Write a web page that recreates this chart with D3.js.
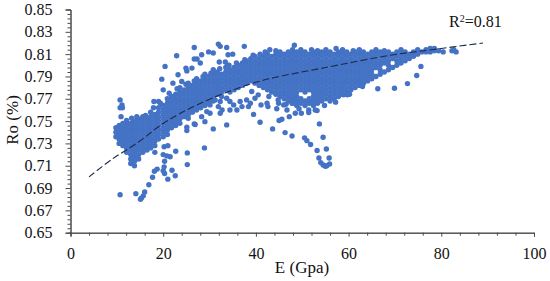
<!DOCTYPE html>
<html>
<head>
<meta charset="utf-8">
<script src="https://cdn.jsdelivr.net/npm/d3@7"></script>
<style>
html, body { margin: 0; padding: 0; background: #fff; }
svg { display: block; }
text { font-family: "Liberation Serif", serif; fill: #111; }
</style>
</head>
<body>
<script>
const xMajor = [0, 20, 40, 60, 80, 100]
const xMinor = [4, 8, 12, 16, 24, 28, 32, 36, 44, 48, 52, 56, 64, 68, 72, 76, 84, 88, 92, 96]
const yMajor = [0.65, 0.67, 0.69, 0.71, 0.73, 0.75, 0.77, 0.79, 0.81, 0.83, 0.85]

// dense band, read column by column
const bandE = [9.8, 10.5, 11.3, 12.1, 13, 13.8, 14.7, 15.6, 16.5, 17.3, 18.2, 19, 20, 20.9, 21.8, 22.7, 23.6, 24.5, 25.4, 26.3, 27.2, 28.1, 29, 29.9, 30.8, 31.7, 32.6, 33.5, 34.4, 35.3, 36.2, 37.1, 38, 38.9, 39.8, 40.7, 41.6, 42.5, 43.4, 44.3, 45.2, 46.1, 47, 47.9, 48.8, 49.7, 50.6, 51.5, 52.4, 53.3, 54.2, 55.1, 56, 56.9, 57.8, 58.7, 59.6, 60.5, 61.4, 62.3, 63.2, 64.1, 65, 65.9, 66.8, 67.7, 68.6, 69.5, 70.4, 71.3, 72.2, 73.1, 74, 74.9, 75.8, 76.7, 77.6, 78.5, 79.4]
const bandRo = [
  [.736, .740, .744],
  [.730, .734, .738, .742, .746],
  [.728, .732, .736, .740, .744, .748],
  [.722, .726, .730, .734, .738, .742, .746, .749],
  [.712, .716, .720, .724, .728, .732, .736, .740, .744, .748],
  [.710, .714, .718, .722, .726, .730, .734, .738, .742, .746, .750],
  [.716, .720, .724, .728, .732, .736, .740, .744, .748, .752],
  [.722, .726, .730, .734, .738, .742, .746, .750, .754],
  [.724, .728, .732, .736, .740, .744, .748, .752],
  [.726, .730, .734, .738, .742, .746, .750, .754, .758],
  [.728, .732, .736, .740, .744, .748, .752, .756],
  [.734, .738, .742, .746, .750, .754, .758, .762],
  [.736, .740, .744, .748, .752, .756, .760, .764],
  [.738, .742, .746, .750, .754, .758, .762, .766, .770],
  [.744, .748, .752, .756, .760, .764, .768, .772],
  [.746, .750, .754, .758, .762, .766, .770, .774],
  [.752, .756, .760, .764, .768, .772, .776, .780],
  [.754, .758, .762, .766, .770, .774, .778],
  [.756, .760, .764, .768, .772, .776, .780, .784],
  [.758, .762, .766, .770, .774, .778, .782],
  [.760, .764, .768, .772, .776, .780, .784, .788],
  [.762, .766, .770, .774, .778, .782, .786],
  [.764, .768, .772, .776, .780, .784, .788, .792],
  [.766, .770, .774, .778, .782, .786, .790],
  [.768, .772, .776, .780, .784, .788, .792, .796],
  [.774, .778, .782, .786, .790, .794],
  [.772, .776, .780, .784, .788, .792],
  [.778, .782, .786, .790, .794, .798],
  [.776, .780, .784, .788, .792, .796],
  [.778, .782, .786, .790, .794, .798],
  [.780, .784, .788, .792, .796, .800],
  [.782, .786, .790, .794, .798, .802],
  [.784, .788, .792, .796, .800, .804],
  [.786, .790, .794, .798, .802, .806],
  [.784, .788, .792, .796, .800, .804, .808],
  [.782, .786, .790, .794, .798, .802, .806],
  [.780, .784, .788, .792, .796, .800, .804, .808],
  [.778, .782, .786, .790, .794, .798, .802, .806, .810],
  [.776, .780, .784, .788, .792, .796, .800, .804, .808],
  [.774, .778, .782, .786, .790, .794, .798, .802, .806, .810, .813],
  [.772, .776, .780, .784, .788, .792, .796, .800, .804, .808, .812],
  [.770, .774, .778, .782, .786, .790, .794, .798, .802, .806, .810],
  [.768, .772, .776, .780, .784, .788, .792, .796, .800, .804, .808, .812],
  [.766, .770, .774, .778, .782, .786, .790, .794, .798, .802, .806, .810, .814],
  [.764, .768, .772, .776, .780, .784, .788, .792, .796, .800, .804, .808, .812],
  [.766, .770, .778, .782, .786, .790, .794, .798, .802, .806, .810, .814],
  [.764, .768, .776, .780, .784, .788, .792, .796, .800, .804, .808, .812],
  [.766, .770, .778, .782, .786, .790, .794, .798, .802, .806, .810],
  [.764, .768, .772, .776, .780, .784, .788, .792, .796, .800, .804, .808, .812],
  [.766, .770, .774, .778, .782, .786, .790, .794, .798, .802, .806, .810, .813],
  [.768, .772, .776, .780, .784, .788, .792, .796, .800, .804, .808, .812],
  [.770, .774, .778, .782, .786, .790, .794, .798, .802, .806, .810, .814],
  [.768, .772, .776, .780, .784, .788, .792, .796, .800, .804, .808, .812],
  [.770, .774, .778, .782, .786, .790, .794, .798, .802, .806, .810],
  [.772, .776, .780, .784, .788, .792, .796, .800, .804, .808, .812],
  [.774, .778, .782, .786, .790, .794, .798, .802, .806, .810, .814],
  [.776, .780, .784, .788, .792, .796, .800, .804, .808, .812],
  [.778, .782, .786, .790, .794, .798, .802, .806, .810],
  [.780, .784, .788, .792, .796, .800, .804, .808, .812],
  [.782, .786, .790, .794, .798, .802, .806, .810, .814],
  [.784, .788, .792, .796, .800, .804, .808, .812],
  [.786, .790, .794, .798, .802, .806, .810],
  [.788, .792, .796, .800, .804, .808, .812],
  [.790, .798, .802, .806, .810, .814],
  [.792, .796, .800, .804, .808, .812],
  [.794, .802, .806, .810, .813],
  [.796, .800, .804, .808, .812],
  [.798, .806, .810],
  [.800, .804, .808, .812],
  [.802, .806, .810, .814],
  [.804, .808, .812],
  [.806, .810],
  [.808, .812],
  [.810, .814],
  [.812],
  [.812, .814],
  [.812, .815],
  [.813, .815],
  [.813]
]

// loose points around the band
const outliers = [
  [10.7, .684], [14.1, .685], [16, .6865], [15.7, .683], [15.3, .681], [15.1, .68], [16.9, .693], [17.7, .6997],
  [18.1, .705], [18.7, .707], [21, .698], [22.6, .701], [21.9, .706], [20.3, .703], [20, .7055], [20.2, .709],
  [20.3, .714], [25.2, .711], [25.2, .7215], [22.7, .723], [28.9, .726], [21.5, .718], [20, .72], [20.8, .7188],
  [20.2, .727], [21, .728], [18.2, .722],
  [51, .7325], [51.8, .729], [53.2, .7236], [55.2, .725], [53.6, .717], [55.8, .717], [54, .7128], [55.9, .7116],
  [54.5, .7107], [55, .7095], [55.3, .71], [54.5, .7355], [53.7, .7475], [50.5, .735], [47.8, .7367], [46.3, .7397],
  [47.2, .754], [45.6, .7517], [45, .7505], [48.5, .757], [49.8, .757], [51.4, .7576], [53.2, .7594], [44.5, .761],
  [66.3, .779], [69.9, .7795], [72.7, .7836], [74.7, .7908], [75.6, .799], [80.4, .812], [82.3, .813], [83.2, .812], [82.7, .814],
  [39.5, .756], [40.9, .749], [43.6, .743], [30.8, .743], [33.7, .7466], [26.7, .7475], [25.1, .7415],
  [10.7, .769], [11.1, .7645], [10.7, .762], [11.2, .762], [10.9, .754], [12.1, .7505], [13.2, .7526], [14.3, .754],
  [19.7, .7876], [20.4, .799], [22.9, .8085], [26.7, .816], [26.7, .8056], [27.3, .8056], [28.3, .8094], [28, .802],
  [24.9, .7975], [26.2, .7975], [25.1, .795], [23.2, .7915], [29.8, .812], [31.9, .819], [32.3, .817], [30.8, .811],
  [33.7, .816], [34, .8094], [35, .81], [32.1, .803], [33.4, .803], [37.5, .817], [34.2, .8], [22.1, .784], [24, .7855],
  [20, .778], [22.2, .772], [19, .7675], [18, .7675],
  [26.9, .747], [25.4, .7526], [29, .7495], [28.3, .754], [30.1, .757], [29.4, .7585], [32.3, .757], [32.7, .76],
  [31.9, .763], [34.4, .76], [35.9, .76], [37, .763], [38.4, .763], [22.9, .749], [23.6, .748], [25.1, .7445],
  [31.2, .769], [32.3, .7675], [30.1, .7645], [35.2, .7645], [36.6, .7675], [38, .769], [39.8, .7705], [33.7, .7705], [34.4, .7675],
  [39.1, .7765], [38.8, .766], [40.5, .7735], [42.4, .766], [41.1, .7645], [42.6, .763], [44.9, .766], [46, .7645], [46.7, .76],
  [47.8, .766], [51.4, .76], [52.8, .76], [58.9, .7735], [59.7, .7735],
  // uneven top edge
  [16.2, .755], [17.9, .762], [19.4, .766], [21.3, .775], [23, .779], [24.9, .783], [26.7, .786], [28.6, .79], [30.3, .793], [32.2, .797],
  [33.9, .8], [35.8, .802], [37.6, .805], [39.4, .809], [40.9, .81], [42, .812], [43, .814], [48.3, .818], [52, .814], [57.3, .815], [61, .813],
  // uneven lower edge
  [42.8, .772], [44.8, .769], [46.5, .765], [49.3, .761], [54.8, .764], [57.2, .767], [60.2, .774], [63, .781]
]

// dashed trend line
const trendE = [4, 9, 14.6, 19, 23.7, 30.8, 39.4, 44, 55, 69, 78, 89]
const trendRo = [.7, .716, .731, .745, .757, .771, .784, .789, .798, .809, .814, .82]

const width = 550
const height = 281
const DOT_R = 2.7

const x = d3.scaleLinear().domain([0, 100]).range([70.5, 534])
const y = d3.scaleLinear().domain([0.65, 0.85]).range([232.7, 9.5])

const svg = d3.select('body').append('svg')
  .attr('width', width)
  .attr('height', height)

drawAxes()
drawPoints()
drawTrend()
drawLabels()

function drawAxes() {
  const yMinor = d3.range(0, 51).map(d => 0.65 + d * 0.004).filter((d, i) => i % 5 !== 0)

  svg.append('g').attr('transform', `translate(0, ${y.range()[0]})`)
    .call(d3.axisBottom(x).tickValues(xMinor).tickSize(3).tickFormat(''))
  svg.append('g').attr('class', 'x-major').attr('transform', `translate(0, ${y.range()[0]})`)
    .call(d3.axisBottom(x).tickValues(xMajor).tickSize(4).tickPadding(11).tickFormat(d3.format('d')))

  svg.append('g').attr('transform', `translate(${x.range()[0]}, 0)`)
    .call(d3.axisLeft(y).tickValues(yMinor).tickSize(3).tickFormat(''))
  svg.append('g').attr('class', 'y-major').attr('transform', `translate(${x.range()[0]}, 0)`)
    .call(d3.axisLeft(y).tickValues(yMajor).tickSize(5).tickPadding(13).tickFormat(d3.format('.2f')))

  svg.selectAll('.domain, .tick line').attr('stroke', '#4a4a4a').attr('stroke-width', 1)
  svg.selectAll('.tick text').style('font-family', '"Liberation Serif", serif').style('font-size', '16px').attr('fill', '#111')
}

function drawPoints() {
  const band = bandE.flatMap((e, i) => bandRo[i].map(ro => [e, ro]))
  svg.append('g').selectAll('circle')
    .data(band.concat(outliers))
    .join('circle')
    .attr('cx', d => x(d[0]))
    .attr('cy', d => y(d[1]))
    .attr('r', DOT_R)
    .attr('fill', '#4472c4')
}

function drawTrend() {
  const line = d3.line()
    .x((d, i) => x(d))
    .y((d, i) => y(trendRo[i]))
    .curve(d3.curveCatmullRom)
  svg.append('path')
    .attr('d', line(trendE))
    .attr('fill', 'none')
    .attr('stroke', '#1c2b4a')
    .attr('stroke-width', 1.1)
    .attr('stroke-dasharray', '7 3')
}

function drawLabels() {
  svg.append('text')
    .attr('x', 302).attr('y', 273)
    .attr('text-anchor', 'middle')
    .style('font-size', '17px')
    .text('E (Gpa)')

  svg.append('text')
    .attr('transform', 'translate(18, 120) rotate(-90)')
    .attr('text-anchor', 'middle')
    .style('font-size', '17px')
    .text('Ro (%)')

  const r2 = svg.append('text').attr('x', 449).attr('y', 27).style('font-size', '16px')
  r2.append('tspan').text('R')
  r2.append('tspan').attr('dy', -5).style('font-size', '10px').text('2')
  r2.append('tspan').attr('dy', 5).text('=0.81')
}
</script>
</body>
</html>
